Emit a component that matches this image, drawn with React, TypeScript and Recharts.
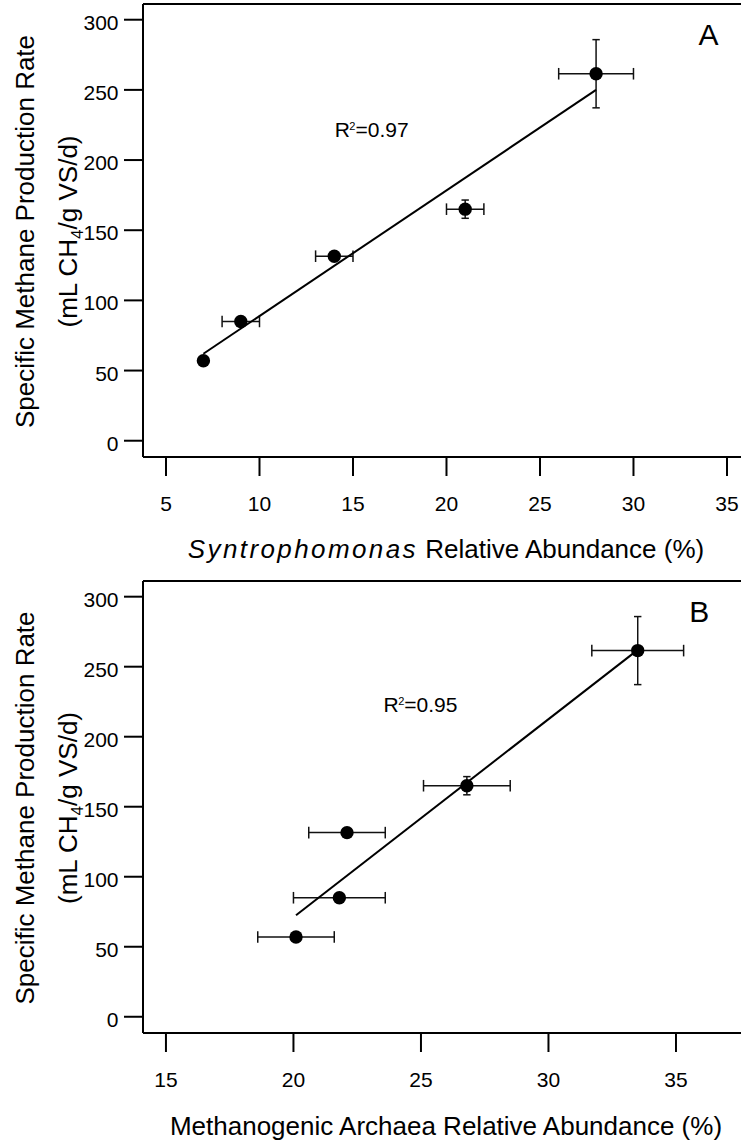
import React from 'react';
import {
  ScatterChart,
  Scatter,
  XAxis,
  YAxis,
  ErrorBar,
  ReferenceLine,
  ReferenceDot,
} from 'recharts';

const FONT = '"Liberation Sans", Arial, Helvetica, sans-serif';

// Specific methane production rate (mL CH4/g VS/d), one value per reactor
const methaneRate = [57, 85, 131.5, 165, 261.5];
const methaneRateErr = [0, 0, 0, 6.5, 24.3];

// Panel A: Syntrophomonas relative abundance (%)
const syntrophAbundance = [7, 9, 14, 21, 28];
const syntrophErr = [0, 1, 1, 1, 2];
const syntrophFitX = [7, 28];
const syntrophFitY = [62, 250];

// Panel B: methanogenic archaea relative abundance (%)
const archaeaAbundance = [20.1, 21.8, 22.1, 26.8, 33.5];
const archaeaErr = [1.5, 1.8, 1.5, 1.7, 1.8];
const archaeaFitX = [20.1, 33.5];
const archaeaFitY = [72.5, 262];

// Axis ticks
const yTicks = [0, 50, 100, 150, 200, 250, 300];
const xTicksA = [5, 10, 15, 20, 25, 30, 35];
const xTicksB = [15, 20, 25, 30, 35];

const yDomain: [number, number] = [-11.6, 311.2];
const xDomainA: [number, number] = [3.77, 35.75];
const xDomainB: [number, number] = [14.1, 37.55];

const toPoints = (xs: number[], xErr: number[]) =>
  methaneRate.map((y, i) => ({ x: xs[i], y, xErr: xErr[i], yErr: methaneRateErr[i] }));

const toLine = (xs: number[], ys: number[]) => xs.map((x, i) => ({ x, y: ys[i] }));

function YTick(props: any) {
  const { x, y, payload } = props;
  return (
    <text x={x} y={y} dy={10} textAnchor="end" fontSize={21} fill="#000">
      {payload.value}
    </text>
  );
}

function YTitle({ viewBox }: any) {
  const vb = viewBox ?? { x: 0, y: 4, width: 143, height: 453 };
  const cy = vb.y + vb.height / 2 + 1;
  const x1 = vb.x + 33.5;
  const x2 = vb.x + 77;
  return (
    <g fontSize={26} fill="#000">
      <text x={x1} y={cy} textAnchor="middle" transform={`rotate(-90 ${x1} ${cy})`}>
        Specific Methane Production Rate
      </text>
      <text x={x2} y={cy} textAnchor="middle" transform={`rotate(-90 ${x2} ${cy})`}>
        (mL CH
        <tspan fontSize={17} dy={6}>
          4
        </tspan>
        <tspan dy={-6}>/g VS/d)</tspan>
      </text>
    </g>
  );
}

function XTitleA({ viewBox }: any) {
  const vb = viewBox ?? { x: 143, y: 457, width: 598, height: 120 };
  const cx = vb.x + vb.width / 2 + 4;
  return (
    <text x={cx} y={vb.y + 101} textAnchor="middle" fontSize={26} fill="#000">
      <tspan fontStyle="italic" letterSpacing={2.4}>
        Syntrophomonas
      </tspan>
      <tspan> Relative Abundance (%)</tspan>
    </text>
  );
}

function XTitleB({ viewBox }: any) {
  const vb = viewBox ?? { x: 143, y: 456, width: 598, height: 110 };
  const cx = vb.x + vb.width / 2 + 4;
  return (
    <text x={cx} y={vb.y + 102} textAnchor="middle" fontSize={26} fill="#000">
      Methanogenic Archaea Relative Abundance (%)
    </text>
  );
}

function R2Label({ viewBox, text }: any) {
  const x = viewBox?.x ?? 0;
  const y = viewBox?.y ?? 0;
  return (
    <text x={x} y={y} fontSize={21} fill="#000">
      R
      <tspan dx={-0.5} dy={-7} fontSize={11}>
        2
      </tspan>
      <tspan dy={7}>={text}</tspan>
    </text>
  );
}

function PanelLetter({ viewBox, text }: any) {
  const x = viewBox?.x ?? 0;
  const y = viewBox?.y ?? 0;
  return (
    <text x={x} y={y} fontSize={30} fill="#000">
      {text}
    </text>
  );
}

const Dot = (p: any) => <circle cx={p.cx} cy={p.cy} r={6.7} fill="#000" />;
const NoDot = () => <g />;

type PanelProps = {
  height: number;
  xAxisHeight: number;
  xDomain: [number, number];
  xTicks: number[];
  points: { x: number; y: number; xErr: number; yErr: number }[];
  fit: { x: number; y: number }[];
  xTitle: React.ReactElement;
  letter: string;
  letterAt: [number, number];
  r2: string;
  r2At: [number, number];
};

function Panel(props: PanelProps) {
  const { height, xAxisHeight, xDomain, xTicks, points, fit, xTitle, letter, letterAt, r2, r2At } = props;
  return (
    <ScatterChart width={741} height={height} margin={{ top: 4, right: 0, bottom: 0, left: 0 }}>
      <XAxis
        type="number"
        dataKey="x"
        domain={xDomain}
        ticks={xTicks}
        interval={0}
        allowDataOverflow
        height={xAxisHeight}
        tickSize={19}
        tickMargin={20.5}
        tick={{ fontSize: 21, fill: '#000' }}
        axisLine={{ stroke: '#000', strokeWidth: 2 }}
        tickLine={{ stroke: '#000', strokeWidth: 2 }}
        label={xTitle}
      />
      <YAxis
        type="number"
        dataKey="y"
        domain={yDomain}
        ticks={yTicks}
        interval={0}
        allowDataOverflow
        width={143}
        tickSize={19}
        tickMargin={5.5}
        tick={<YTick />}
        axisLine={{ stroke: '#000', strokeWidth: 2 }}
        tickLine={{ stroke: '#000', strokeWidth: 2 }}
        label={<YTitle />}
      />
      <ReferenceLine y={yDomain[1]} stroke="#000" strokeWidth={2} />
      <Scatter
        data={fit}
        line={{ stroke: '#000', strokeWidth: 2 }}
        shape={NoDot}
        isAnimationActive={false}
        legendType="none"
      />
      <Scatter data={points} shape={Dot} isAnimationActive={false} legendType="none">
        <ErrorBar
          dataKey="xErr"
          direction="x"
          width={5.8}
          stroke="#111"
          strokeWidth={1.5}
          isAnimationActive={false}
        />
        <ErrorBar
          dataKey="yErr"
          direction="y"
          width={3.7}
          stroke="#111"
          strokeWidth={1.5}
          isAnimationActive={false}
        />
      </Scatter>
      <ReferenceDot
        x={r2At[0]}
        y={r2At[1]}
        r={0}
        fill="none"
        stroke="none"
        label={<R2Label text={r2} />}
      />
      <ReferenceDot
        x={letterAt[0]}
        y={letterAt[1]}
        r={0}
        fill="none"
        stroke="none"
        label={<PanelLetter text={letter} />}
      />
    </ScatterChart>
  );
}

export default function App() {
  return (
    <div
      style={{
        position: 'absolute',
        left: 0,
        top: 0,
        width: 741,
        height: 1143,
        overflow: 'hidden',
        background: '#fff',
        fontFamily: FONT,
      }}
    >
      <Panel
        height={577}
        xAxisHeight={120}
        xDomain={xDomainA}
        xTicks={xTicksA}
        points={toPoints(syntrophAbundance, syntrophErr)}
        fit={toLine(syntrophFitX, syntrophFitY)}
        xTitle={<XTitleA />}
        letter="A"
        letterAt={[33.48, 282.2]}
        r2="0.97"
        r2At={[14.02, 216.6]}
      />
      <Panel
        height={566}
        xAxisHeight={110}
        xDomain={xDomainB}
        xTicks={xTicksB}
        points={toPoints(archaeaAbundance, archaeaErr)}
        fit={toLine(archaeaFitX, archaeaFitY)}
        xTitle={<XTitleB />}
        letter="B"
        letterAt={[35.52, 282.1]}
        r2="0.95"
        r2At={[23.53, 217.8]}
      />
    </div>
  );
}
